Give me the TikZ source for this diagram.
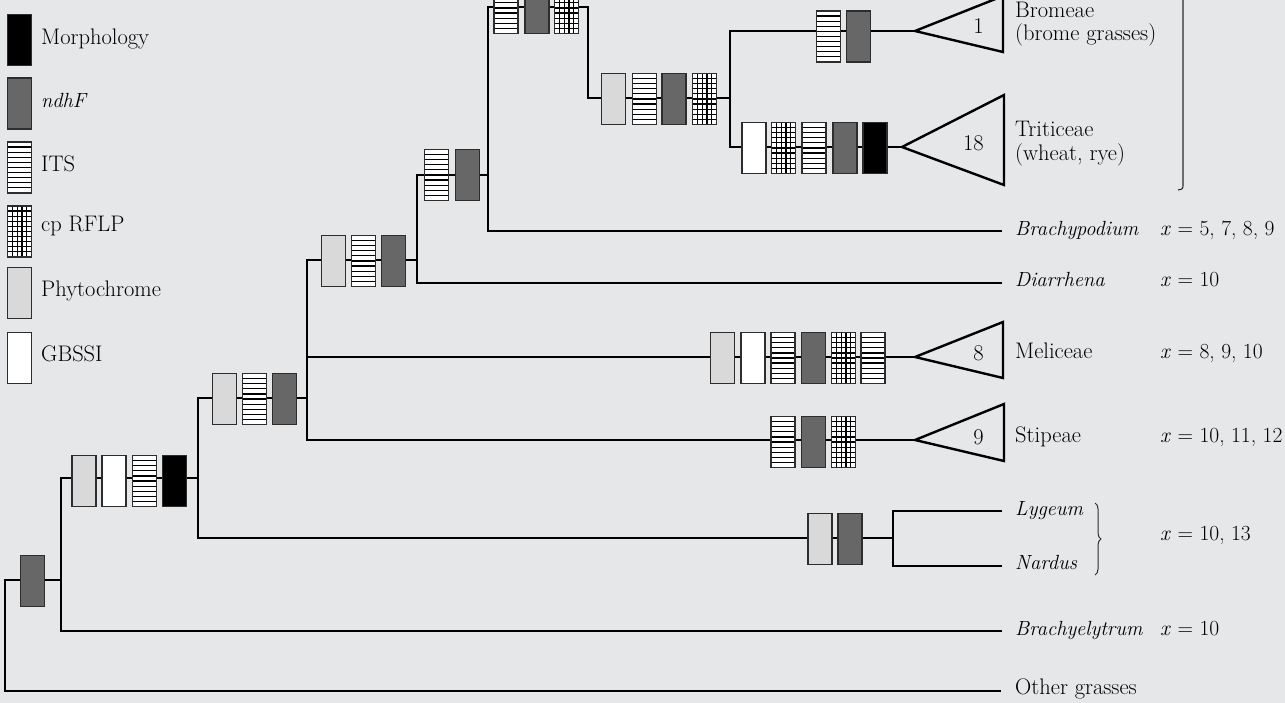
\documentclass[tikz,border=0pt]{standalone}
\usetikzlibrary{decorations.pathreplacing,calc}
\definecolor{bg}{RGB}{230,231,233}
\definecolor{edge}{RGB}{45,45,45}
\definecolor{ndhfc}{RGB}{103,103,103}
\definecolor{phyc}{RGB}{217,217,217}
\tikzset{
  tree/.style={line width=2.4pt, line join=miter, draw=black},
  tri/.style={line width=2.4pt, line join=miter, draw=black},
  mk/.style={rectangle, draw=edge, line width=1.1pt, minimum width=24pt, minimum height=51pt, inner sep=0pt, outer sep=0pt},
  morph/.style={mk, fill=black},
  ndhf/.style={mk, fill=ndhfc},
  phyto/.style={mk, fill=phyc},
  gbssi/.style={mk, fill=white},
  its/.style={mk, fill=white, path picture={
    \foreach \i in {1,...,9}{
      \draw[black, line width=1.2pt]
        ($(path picture bounding box.north west)!\i/10!(path picture bounding box.south west)$) --
        ($(path picture bounding box.north east)!\i/10!(path picture bounding box.south east)$);}}},
  cprflp/.style={mk, fill=white, path picture={
    \foreach \i in {1,...,9}{
      \draw[black, line width=1.2pt]
        ($(path picture bounding box.north west)!\i/10!(path picture bounding box.south west)$) --
        ($(path picture bounding box.north east)!\i/10!(path picture bounding box.south east)$);}
    \foreach \j in {1,...,4}{
      \draw[black, line width=1.2pt]
        ($(path picture bounding box.north west)!\j/5!(path picture bounding box.north east)$) --
        ($(path picture bounding box.south west)!\j/5!(path picture bounding box.south east)$);}}},
  lab/.style={inner sep=0pt, anchor=mid west},
  itlab/.style={lab, font=\fontsize{20.5}{24}\selectfont\itshape},
  xlab/.style={lab, font=\fontsize{21.5}{24}\selectfont},
  num/.style={inner sep=0pt, anchor=east},
  thinline/.style={draw=edge, line width=1.1pt},
}
\begin{document}
\begin{tikzpicture}[x=1pt, y=-1pt, font=\fontsize{22.5}{25}\selectfont]
\useasboundingbox (0,0) rectangle (1285,703);
\clip (0,0) rectangle (1285,703);
\fill[bg] (0,0) rectangle (1285,703);

% tree coordinates
\coordinate (r) at (5,580);
\coordinate (n1) at (61,580);
\coordinate (n2) at (198,478);
\coordinate (n3) at (307,398);
\coordinate (n4) at (417,260);
\coordinate (n5) at (488,175);
\coordinate (n6) at (588,7);
\coordinate (n7) at (730,98);
\coordinate (n8) at (893,538);
\coordinate (brom) at (915,31);
\coordinate (trit) at (902,147);
\coordinate (meli) at (915,357);
\coordinate (stip) at (915,440);
\coordinate (bpod) at (1002,231);
\coordinate (diar) at (1002,283);
\coordinate (lyg) at (1002,511);
\coordinate (nard) at (1002,566);
\coordinate (bely) at (1002,631);
\coordinate (og) at (1001,691);

% tree connectors
\draw[tree] (n1) -- (r) |- (og);
\draw[tree] (n2) -| (n1) |- (bely);
\draw[tree] (n3) -| (n2) |- (n8);
\draw[tree] (n4) -| (n3) |- (stip);
\draw[tree] (n3 |- meli) -- (meli);
\draw[tree] (n5) -| (n4) |- (diar);
\draw[tree] (n7) -| (n6) -| (n5) |- (bpod);
\draw[tree] (brom) -| (n7) |- (trit);
\draw[tree] (lyg) -| (n8) |- (nard);

% triangles
\coordinate (bromt) at (1003,-4);  \coordinate (bromb) at (1003,52);
\coordinate (tritt) at (1004,95);  \coordinate (tritb) at (1004,185);
\coordinate (melit) at (1003,322); \coordinate (melib) at (1003,378);
\coordinate (stipt) at (1004,404); \coordinate (stipb) at (1004,461);
\draw[tri] (brom) -- (bromt) -- (bromb) -- cycle;
\draw[tri] (trit) -- (tritt) -- (tritb) -- cycle;
\draw[tri] (meli) -- (melit) -- (melib) -- cycle;
\draw[tri] (stip) -- (stipt) -- (stipb) -- cycle;
\node[num] (k1) at (984,26) {1};
\node[num] (k18) at (984,143) {18};
\node[num] (k8) at (984,353) {8};
\node[num] (k9) at (984,437) {9};

% character boxes
\node[ndhf] (a1) at (32.5,581) {};

\node[phyto] (b1) at (84,481) {};
\node[gbssi] (b2) at (114,481) {};
\node[its] (b3) at (144.5,481) {};
\node[morph] (b4) at (174.5,481) {};

\node[phyto] (c1) at (224.5,399) {};
\node[its] (c2) at (254.5,399) {};
\node[ndhf] (c3) at (284.5,399) {};

\node[phyto] (d1) at (333.5,261) {};
\node[its] (d2) at (363.5,261) {};
\node[ndhf] (d3) at (393.5,261) {};

\node[its] (e1) at (436.5,175) {};
\node[ndhf] (e2) at (467.5,175) {};

\node[its] (f1) at (506,8) {};
\node[ndhf] (f2) at (537,8) {};
\node[cprflp] (f3) at (566.5,8) {};

\node[phyto] (g1) at (613.5,99) {};
\node[its] (g2) at (644.5,99) {};
\node[ndhf] (g3) at (674,99) {};
\node[cprflp] (g4) at (704.5,99) {};

\node[its] (h1) at (828.5,36.5) {};
\node[ndhf] (h2) at (858.5,36.5) {};

\node[gbssi] (i1) at (754,148) {};
\node[cprflp] (i2) at (783.5,148) {};
\node[its] (i3) at (814,148) {};
\node[ndhf] (i4) at (845,148) {};
\node[morph] (i5) at (875,148) {};

\node[phyto] (j1) at (722.5,358) {};
\node[gbssi] (j2) at (753,358) {};
\node[its] (j3) at (783,358) {};
\node[ndhf] (j4) at (813.5,358) {};
\node[cprflp] (j5) at (843.5,358) {};
\node[its] (j6) at (873,358) {};

\node[its] (m1) at (783,442) {};
\node[ndhf] (m2) at (813.5,442) {};
\node[cprflp] (m3) at (843.5,442) {};

\node[phyto] (p1) at (820,539) {};
\node[ndhf] (p2) at (850,539) {};

% taxon labels
\node[lab] (tbrom) at (1015,15) {Bromeae};
\node[lab] (tbrom2) at (1015,38) {(brome grasses)};
\node[lab] (ttrit) at (1015,134) {Triticeae};
\node[lab] (ttrit2) at (1015,158) {(wheat, rye)};
\node[itlab] (tbpod) at (1015,233) {Brachypodium};
\node[itlab] (tdiar) at (1015,284) {Diarrhena};
\node[lab] (tmeli) at (1015,356) {Meliceae};
\node[lab] (tstip) at (1015,440) {Stipeae};
\node[itlab] (tlyg) at (1015,513) {Lygeum};
\node[itlab] (tnard) at (1015,567) {Nardus};
\node[itlab] (tbely) at (1015,633) {Brachyelytrum};
\node[lab] (tog) at (1015,692) {Other grasses};

% chromosome numbers
\node[xlab] (x1) at (1160,233) {\textit{x} = 5, 7, 8, 9};
\node[xlab] (x2) at (1160,284) {\textit{x} = 10};
\node[xlab] (x3) at (1160,356) {\textit{x} = 8, 9, 10};
\node[xlab] (x4) at (1160,440) {\textit{x} = 10, 11, 12};
\node[xlab] (x5) at (1160,538) {\textit{x} = 10, 13};
\node[xlab] (x6) at (1160,633) {\textit{x} = 10};

% brackets
\coordinate (bkt) at (1183,-5);
\coordinate (bkb) at (1183,184);
\coordinate (bkh) at (1178,190);
\draw[thinline] (bkt) -- (bkb) .. controls (1183,189) .. (bkh);
\coordinate (brt) at (1095,503);
\coordinate (brb) at (1095,575);
\draw[thinline, line width=1pt, decorate, decoration={brace, amplitude=6pt}] (brt) -- (brb);

% legend
\node[morph] (lm) at (19.5,40) {};
\node[ndhf] (ln) at (19.5,103.5) {};
\node[its] (li) at (19.5,167.5) {};
\node[cprflp] (lc) at (19.5,231.5) {};
\node[phyto] (lp) at (19.5,293) {};
\node[gbssi] (lg) at (19.5,358) {};
\node[lab] (tm) at (41,42) {Morphology};
\node[itlab] (tn) at (41,105) {ndhF};
\node[lab] (ti) at (41,169) {ITS};
\node[lab] (tc) at (41,229) {cp RFLP};
\node[lab] (tp) at (41,294) {Phytochrome};
\node[lab] (tg) at (41,359) {GBSSI};
\end{tikzpicture}
\end{document}
